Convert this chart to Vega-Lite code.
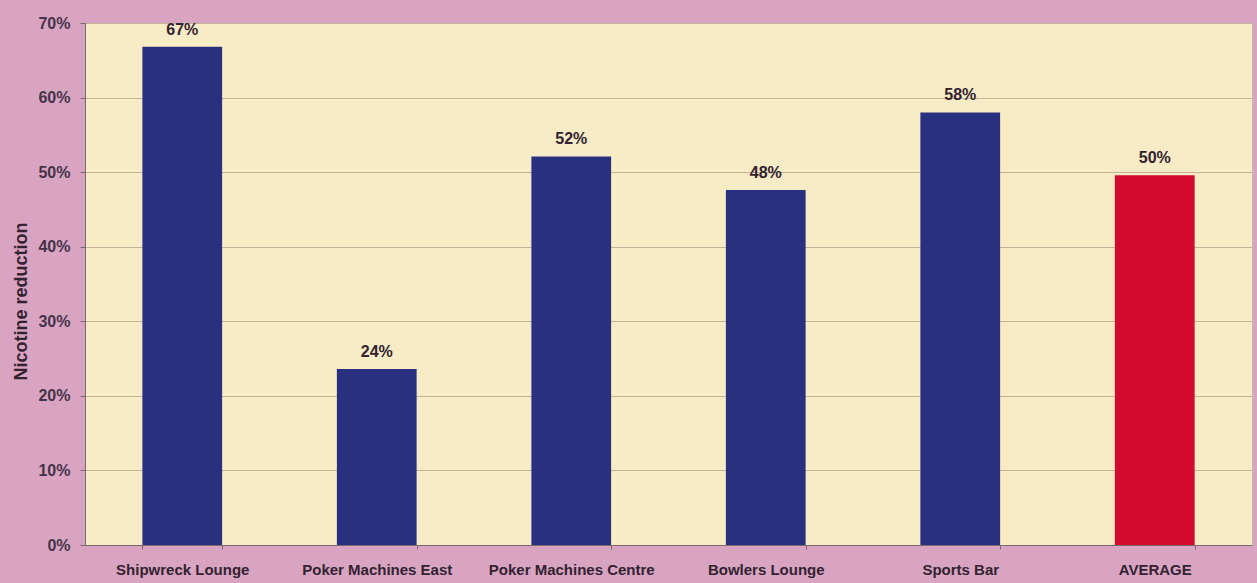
{
  "$schema": "https://vega.github.io/schema/vega-lite/v6.json",
  "autosize": "none",
  "width": 1167,
  "height": 522,
  "padding": {"left": 85, "top": 23, "right": 5, "bottom": 38},
  "background": "#d9a4c2",
  "config": {
    "view": {"fill": "#f7ecc6", "stroke": "#c9b8a8", "strokeWidth": 1},
    "font": "Liberation Sans"
  },
  "data": {
    "values": [
      {"location": "Shipwreck Lounge", "reduction": 0.668, "kind": "site"},
      {"location": "Poker Machines East", "reduction": 0.236, "kind": "site"},
      {"location": "Poker Machines Centre", "reduction": 0.521, "kind": "site"},
      {"location": "Bowlers Lounge", "reduction": 0.476, "kind": "site"},
      {"location": "Sports Bar", "reduction": 0.58, "kind": "site"},
      {"location": "AVERAGE", "reduction": 0.496, "kind": "average"}
    ]
  },
  "encoding": {
    "x": {
      "field": "location",
      "type": "nominal",
      "sort": null,
      "scale": {"paddingInner": 0.59, "paddingOuter": 0.295},
      "axis": {
        "title": null,
        "labelAngle": 0,
        "labelFontSize": 15,
        "labelFontWeight": "bold",
        "labelColor": "#33222f",
        "labelPadding": 13,
        "labelLimit": 300,
        "domainColor": "#7a6a6a",
        "tickColor": "#7a6a6a",
        "tickBand": "extent",
        "tickSize": 4
      }
    },
    "y": {
      "field": "reduction",
      "type": "quantitative",
      "scale": {"domain": [0, 0.7], "nice": false},
      "axis": {
        "title": "Nicotine reduction",
        "titleFontSize": 18,
        "titleFontWeight": "bold",
        "titleColor": "#33222f",
        "titlePadding": 7,
        "titleY": 278,
        "format": ".0%",
        "values": [0, 0.1, 0.2, 0.3, 0.4, 0.5, 0.6, 0.7],
        "labelFontSize": 16,
        "labelFontWeight": "bold",
        "labelColor": "#45334a",
        "labelPadding": 10,
        "grid": true,
        "gridColor": "#bfb39a",
        "gridWidth": 1,
        "domainColor": "#7a6a6a",
        "tickColor": "#7a6a6a",
        "tickSize": 5
      }
    }
  },
  "layer": [
    {
      "mark": {"type": "bar"},
      "encoding": {
        "color": {
          "field": "kind",
          "type": "nominal",
          "scale": {"domain": ["site", "average"], "range": ["#29307f", "#d20a2f"]},
          "legend": null
        }
      }
    },
    {
      "mark": {"type": "text", "baseline": "bottom", "dy": -9, "fontSize": 16, "fontWeight": "bold", "color": "#33222f"},
      "encoding": {
        "text": {"field": "reduction", "type": "quantitative", "format": ".0%"}
      }
    }
  ]
}
